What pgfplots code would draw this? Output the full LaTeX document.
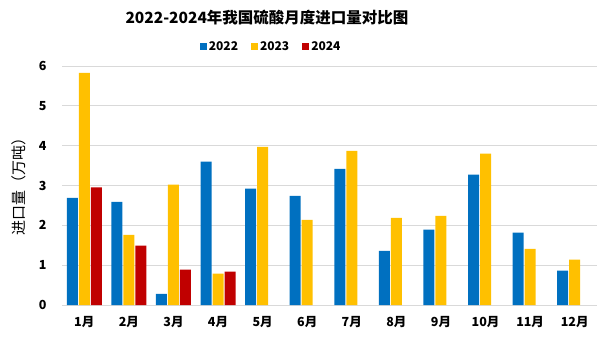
\documentclass[border=0pt]{standalone}
\usepackage{fontspec}
\setmainfont{Noto Sans CJK SC}
\usepackage{pgfplots}
\pgfplotsset{compat=1.18}
\definecolor{cblue}{HTML}{0070C0}
\definecolor{cyellow}{HTML}{FFC000}
\definecolor{cred}{HTML}{C00000}
\definecolor{cgrid}{HTML}{D9D9D9}
\begin{document}
\begin{tikzpicture}[x=1pt,y=1pt]
\useasboundingbox (0,0) rectangle (604,338);
\begin{axis}[
  at={(62pt,33pt)}, anchor=south west,
  scale only axis, width=535pt, height=239pt,
  ybar=1pt, bar width=11pt,
  xmin=-0.5, xmax=11.5, ymin=0, ymax=6,
  xtick={0,...,11},
  xticklabels={1月,2月,3月,4月,5月,6月,7月,8月,9月,10月,11月,12月},
  ytick={0,1,...,6},
  /pgf/number format/assume math mode=true,
  yticklabel={\pgfmathprintnumber{\tick}},
  ticklabel style={font=\bfseries\fontsize{12.5}{13}\selectfont, text=black},
  xticklabel style={yshift=-8pt},
  yticklabel style={xshift=-12pt},
  major tick length=0pt,
  ymajorgrids, grid style={cgrid, line width=0.9pt},
  axis x line*=bottom, axis y line*=left,
  x axis line style={cgrid, line width=0.9pt, -},
  y axis line style={draw=none},
  legend style={at={(rel axis cs:0.391,1.08)}, anchor=center, draw=none, fill=none, legend columns=3,
    font=\bfseries\fontsize{12}{13}\selectfont,
    /tikz/every even column/.append style={column sep=11pt}},
  legend image code/.code={\fill[#1] (0pt,-3.5pt) rectangle (7pt,3.5pt);},
]
\addplot[fill=cblue, draw=none] coordinates {(0,2.69) (1,2.59) (2,0.28) (3,3.60) (4,2.92) (5,2.74) (6,3.42) (7,1.36) (8,1.89) (9,3.27) (10,1.82) (11,0.86)};
\addplot[fill=cyellow, draw=none] coordinates {(0,5.83) (1,1.76) (2,3.02) (3,0.79) (4,3.97) (5,2.14) (6,3.87) (7,2.19) (8,2.24) (9,3.80) (10,1.41) (11,1.14)};
\addplot[fill=cred, draw=none] coordinates {(0,2.95) (1,1.49) (2,0.89) (3,0.84)};
\legend{2022,2023,2024}
\end{axis}
\node[font=\bfseries\fontsize{15.5}{16.5}\selectfont] at (267,320) {2022-2024年我国硫酸月度进口量对比图};
\node[font=\fontsize{15}{16}\selectfont, rotate=90] at (19,155) {进口量（万吨）};
\end{tikzpicture}
\end{document}
